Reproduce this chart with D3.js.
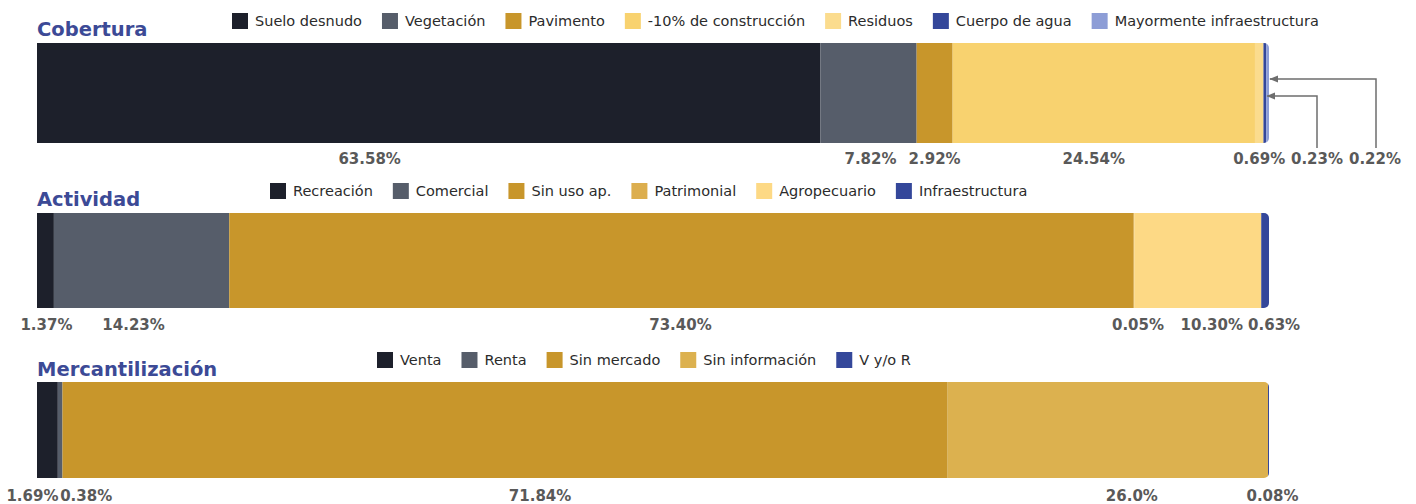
<!DOCTYPE html>
<html>
<head>
<meta charset="utf-8">
<script src="https://cdn.jsdelivr.net/npm/d3@7"></script>
<style>
  html, body { margin: 0; padding: 0; background: #ffffff; }
  svg { display: block; }
</style>
</head>
<body>
<svg id="chart" width="1416" height="504"></svg>
<script>
// ---------------- DATA ----------------
const coberturaCategories = ["Suelo desnudo", "Vegetación", "Pavimento", "-10% de construcción", "Residuos", "Cuerpo de agua", "Mayormente infraestructura"];
const coberturaValues = [63.58, 7.82, 2.92, 24.54, 0.69, 0.23, 0.22];
const coberturaLabels = ["63.58%", "7.82%", "2.92%", "24.54%", "0.69%", "0.23%", "0.22%"];

const actividadCategories = ["Recreación", "Comercial", "Sin uso ap.", "Patrimonial", "Agropecuario", "Infraestructura"];
const actividadValues = [1.37, 14.23, 73.40, 0.05, 10.30, 0.63];
const actividadLabels = ["1.37%", "14.23%", "73.40%", "0.05%", "10.30%", "0.63%"];

const mercantilCategories = ["Venta", "Renta", "Sin mercado", "Sin información", "V y/o R"];
const mercantilValues = [1.69, 0.38, 71.84, 26.0, 0.08];
const mercantilLabels = ["1.69%", "0.38%", "71.84%", "26.0%", "0.08%"];

const panelTitles = ["Cobertura", "Actividad", "Mercantilización"];

// ---------------- STYLE / LAYOUT ----------------
const coberturaColors = ["#1d202b", "#565d6a", "#c8962b", "#f8d26f", "#fbdc8e", "#34479a", "#8d9dd6"];
const actividadColors = ["#1d202b", "#565d6a", "#c8962b", "#dcae4e", "#fdd985", "#34479a"];
const mercantilColors = ["#1d202b", "#565d6a", "#c8962b", "#dcb14f", "#34479a"];

const layout = [
  { titleY: 36, legendX: 232, legendY: 21, barY: 43, barH: 100, labelY: 164,
    labelDx: [-59, 2, 0, -10, 0, null, null],
    leaders: [null, null, null, null, null, {lx: 1317, ly: 96}, {lx: 1376, ly: 79}],
    leaderLabelX: [null, null, null, null, null, 1317, 1375] },
  { titleY: 206, legendX: 270, legendY: 191, barY: 213, barH: 95, labelY: 330,
    labelDx: [1, -8, -1, 4, 14, 9], leaders: [], leaderLabelX: [] },
  { titleY: 376, legendX: 377, legendY: 360, barY: 382, barH: 96, labelY: 501,
    labelDx: [-15, 26, 35, 24, 4], leaders: [], leaderLabelX: [] }
];

const panels = [
  { title: panelTitles[0], cats: coberturaCategories, vals: coberturaValues, labels: coberturaLabels, colors: coberturaColors },
  { title: panelTitles[1], cats: actividadCategories, vals: actividadValues, labels: actividadLabels, colors: actividadColors },
  { title: panelTitles[2], cats: mercantilCategories, vals: mercantilValues, labels: mercantilLabels, colors: mercantilColors }
];

const X0 = 37, X1 = 1269, R = 5;
const titleColor = "#3c4a96";
const labelColor = "#595959";
const fontFam = "'DejaVu Sans', sans-serif";

const svg = d3.select("#chart");
const defs = svg.append("defs");
defs.append("marker")
  .attr("id", "arrow")
  .attr("viewBox", "0 0 10 10")
  .attr("refX", 9).attr("refY", 5)
  .attr("markerWidth", 6).attr("markerHeight", 6)
  .attr("orient", "auto")
  .append("path")
  .attr("d", "M0,1 L10,5 L0,9 Z")
  .attr("fill", "#6e6e6e");

panels.forEach((p, i) => {
  const L = layout[i];
  const g = svg.append("g");
  const total = d3.sum(p.vals);
  const x = d3.scaleLinear().domain([0, total]).range([X0, X1]);
  const color = d3.scaleOrdinal().domain(p.cats).range(p.colors);

  // Title
  g.append("text")
    .attr("x", X0).attr("y", L.titleY)
    .attr("font-family", fontFam).attr("font-weight", "bold")
    .attr("font-size", 19.5).attr("fill", titleColor)
    .text(p.title);

  // Legend (flowing)
  let lx = L.legendX;
  p.cats.forEach(c => {
    g.append("rect")
      .attr("x", lx).attr("y", L.legendY - 8)
      .attr("width", 16).attr("height", 16)
      .attr("fill", color(c));
    const t = g.append("text")
      .attr("x", lx + 23).attr("y", L.legendY)
      .attr("dy", "0.35em")
      .attr("font-family", fontFam).attr("font-size", 14.5)
      .attr("fill", "#2b2b2b")
      .text(c);
    lx += 23 + t.node().getComputedTextLength() + 20;
  });

  // Stacked data
  let acc = 0;
  const segs = p.vals.map((v, k) => {
    const s = { cat: p.cats[k], v, start: acc, end: acc + v, label: p.labels[k], k };
    acc += v;
    return s;
  });

  // Clip path: square left, rounded right
  const y0 = L.barY, y1 = L.barY + L.barH;
  const clipId = "clip" + i;
  defs.append("clipPath").attr("id", clipId)
    .append("path")
    .attr("d", `M${X0},${y0} H${X1 - R} A${R},${R} 0 0 1 ${X1},${y0 + R} V${y1 - R} A${R},${R} 0 0 1 ${X1 - R},${y1} H${X0} Z`);

  g.append("g").attr("clip-path", `url(#${clipId})`)
    .selectAll("rect").data(segs).join("rect")
    .attr("x", d => x(d.start))
    .attr("y", y0)
    .attr("width", d => Math.max(0.6, x(d.end) - x(d.start)))
    .attr("height", L.barH)
    .attr("fill", d => color(d.cat));

  // Labels
  segs.forEach(d => {
    let lxPos;
    if (L.leaders[d.k]) {
      lxPos = L.leaderLabelX[d.k];
      const ld = L.leaders[d.k];
      g.append("path")
        .attr("d", `M${ld.lx},${L.labelY - 16} V${ld.ly} H${x(d.end) + 1}`)
        .attr("fill", "none")
        .attr("stroke", "#6e6e6e")
        .attr("stroke-width", 1.5)
        .attr("marker-end", "url(#arrow)");
    } else {
      lxPos = (x(d.start) + x(d.end)) / 2 + (L.labelDx[d.k] || 0);
    }
    g.append("text")
      .attr("x", lxPos).attr("y", L.labelY)
      .attr("text-anchor", "middle")
      .attr("font-family", fontFam).attr("font-weight", "bold")
      .attr("font-size", 15).attr("fill", labelColor)
      .text(d.label);
  });
});
</script>
</body>
</html>
